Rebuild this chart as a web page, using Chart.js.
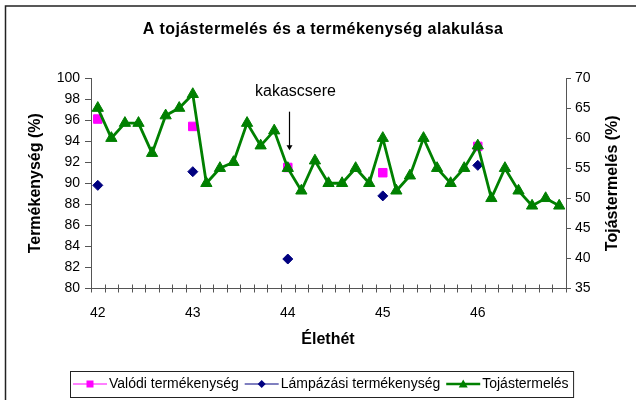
<!DOCTYPE html>
<html>
<head>
<meta charset="utf-8">
<script src="https://cdn.jsdelivr.net/npm/chart.js@4.4.0/dist/chart.umd.min.js"></script>
<style>
  html, body { margin: 0; padding: 0; background: #fff; }
</style>
</head>
<body>
<canvas id="chart" width="636" height="400"></canvas>
<script>
// életkor (hét) - napi bontás, csak az egész heteknél van felirat
const weeks = [
  "42", "", "", "", "", "", "",
  "43", "", "", "", "", "", "",
  "44", "", "", "", "", "", "",
  "45", "", "", "", "", "", "",
  "46", "", "", "", "", "", ""
];

// bal tengely (%)
const valodi = [
  96.1, null, null, null, null, null, null,
  95.4, null, null, null, null, null, null,
  91.5, null, null, null, null, null, null,
  91.0, null, null, null, null, null, null,
  93.5, null, null, null, null, null, null
];
const lampazasi = [
  89.8, null, null, null, null, null, null,
  91.1, null, null, null, null, null, null,
  82.8, null, null, null, null, null, null,
  88.8, null, null, null, null, null, null,
  91.7, null, null, null, null, null, null
];

// jobb tengely (%)
const tojas = [
  65, 60, 62.5, 62.5, 57.5, 63.75, 65,
  67.3, 52.5, 55, 56, 62.5, 58.75, 61.25,
  55, 51.25, 56.25, 52.5, 52.5, 55, 52.5,
  60, 51.25, 53.75, 60, 55, 52.5, 55,
  58.75, 50, 55, 51.25, 48.75, 50, 48.75
];

const leftTicks = { min: 80, max: 100, step: 2 };
const rightTicks = { min: 35, max: 70, step: 5 };

const FONT = "'Liberation Sans', Arial, sans-serif";
Chart.defaults.font.family = FONT;
Chart.defaults.color = "#000";

const axisColor = "#555";

function marker(ctx, style, x, y, r, color) {
  ctx.save();
  ctx.fillStyle = color;
  ctx.beginPath();
  if (style === "rect") {
    ctx.rect(x - r, y - r, 2 * r, 2 * r);
  } else if (style === "rectRot") {
    ctx.moveTo(x, y - r);
    ctx.lineTo(x + r, y);
    ctx.lineTo(x, y + r);
    ctx.lineTo(x - r, y);
    ctx.closePath();
  } else {
    ctx.moveTo(x, y - r);
    ctx.lineTo(x + r, y + r * 0.8);
    ctx.lineTo(x - r, y + r * 0.8);
    ctx.closePath();
  }
  ctx.fill();
  ctx.restore();
}

const decor = {
  id: "decor",
  beforeDraw(chart) {
    const ctx = chart.ctx;
    ctx.save();
    ctx.fillStyle = "#fff";
    ctx.fillRect(0, 0, chart.width, chart.height);
    ctx.restore();
  },
  afterDraw(chart) {
    const ctx = chart.ctx;
    const xs = chart.scales.x;
    const ys = chart.scales.y;
    const area = chart.chartArea;
    ctx.save();

    // keret
    ctx.strokeStyle = "#222";
    ctx.lineWidth = 1.5;
    ctx.strokeRect(5.5, 6, 700, 500);

    // x tengely osztásai (átmennek a tengelyen)
    const bin = xs.getPixelForValue(1) - xs.getPixelForValue(0);
    ctx.strokeStyle = axisColor;
    ctx.lineWidth = 1;
    for (let i = 0; i <= weeks.length; i++) {
      const px = Math.round(xs.getPixelForValue(0) - bin / 2 + i * bin) + 0.5;
      ctx.beginPath();
      ctx.moveTo(px, area.bottom - 4);
      ctx.lineTo(px, area.bottom + 4);
      ctx.stroke();
    }

    // cím
    ctx.fillStyle = "#000";
    ctx.font = "bold 16px " + FONT;
    ctx.textAlign = "center";
    ctx.textBaseline = "alphabetic";
    if ("letterSpacing" in ctx) ctx.letterSpacing = "0.4px";
    ctx.fillText("A tojástermelés és a termékenység alakulása", 323, 34);
    if ("letterSpacing" in ctx) ctx.letterSpacing = "0px";

    // tengelycímek
    ctx.textBaseline = "middle";
    ctx.fillText("Élethét", 328, 340);
    const midY = (area.top + area.bottom) / 2;
    ctx.save();
    ctx.translate(36, midY);
    ctx.rotate(-Math.PI / 2);
    ctx.fillText("Termékenység (%)", 0, 0);
    ctx.restore();
    ctx.save();
    ctx.translate(613, midY);
    ctx.rotate(-Math.PI / 2);
    ctx.fillText("Tojástermelés (%)", 0, 0);
    ctx.restore();

    // kakascsere nyíl
    const ax = Math.round(xs.getPixelForValue(14)) + 1.5;
    ctx.font = "16px " + FONT;
    ctx.textBaseline = "alphabetic";
    ctx.fillText("kakascsere", ax + 6, ys.getPixelForValue(98.26));
    const y0 = ys.getPixelForValue(96.8);
    const y1 = ys.getPixelForValue(93.14);
    ctx.strokeStyle = "#000";
    ctx.lineWidth = 1.2;
    ctx.beginPath();
    ctx.moveTo(ax, y0);
    ctx.lineTo(ax, y1 - 4);
    ctx.stroke();
    ctx.fillStyle = "#000";
    ctx.beginPath();
    ctx.moveTo(ax - 3, y1 - 5);
    ctx.lineTo(ax + 3, y1 - 5);
    ctx.lineTo(ax, y1);
    ctx.closePath();
    ctx.fill();

    // jelmagyarázat
    const items = [
      { text: "Valódi termékenység", color: "#FF00FF", style: "rect", r: 3.5, lw: 1 },
      { text: "Lámpázási termékenység", color: "#000080", style: "rectRot", r: 4, lw: 1 },
      { text: "Tojástermelés", color: "#008000", style: "triangle", r: 4.5, lw: 2.5 }
    ];
    ctx.font = "14px " + FONT;
    ctx.textAlign = "left";
    ctx.textBaseline = "middle";
    const ly = 384;
    let lx = 73;
    for (const it of items) {
      ctx.strokeStyle = it.color;
      ctx.lineWidth = it.lw;
      ctx.beginPath();
      ctx.moveTo(lx, ly);
      ctx.lineTo(lx + 34, ly);
      ctx.stroke();
      marker(ctx, it.style, lx + 17, ly, it.r, it.color);
      ctx.fillStyle = "#000";
      ctx.fillText(it.text, lx + 36, ly);
      lx += 36 + ctx.measureText(it.text).width + 6;
    }
    ctx.strokeStyle = "#222";
    ctx.lineWidth = 1;
    ctx.strokeRect(70.5, 371.5, lx - 6 + 5 - 70.5, 26);

    ctx.restore();
  }
};

new Chart(document.getElementById("chart"), {
  type: "line",
  data: {
    labels: weeks,
    datasets: [
      {
        label: "Valódi termékenység",
        data: valodi,
        yAxisID: "y",
        showLine: false,
        pointStyle: "rect",
        pointRadius: 6,
        backgroundColor: "#FF00FF",
        borderColor: "#FF00FF",
        borderWidth: 1,
        order: 2
      },
      {
        label: "Lámpázási termékenység",
        data: lampazasi,
        yAxisID: "y",
        showLine: false,
        pointStyle: "rectRot",
        pointRadius: 5,
        backgroundColor: "#000080",
        borderColor: "#000080",
        borderWidth: 1,
        order: 1
      },
      {
        label: "Tojástermelés",
        data: tojas,
        yAxisID: "y1",
        pointStyle: "triangle",
        pointRadius: 6.5,
        backgroundColor: "#008000",
        borderColor: "#008000",
        borderWidth: 2.8,
        pointBorderWidth: 1,
        tension: 0,
        order: 0
      }
    ]
  },
  options: {
    responsive: false,
    animation: false,
    events: [],
    layout: { padding: { left: 23, right: 10, top: 78, bottom: 0 } },
    plugins: {
      legend: { display: false },
      tooltip: { enabled: false }
    },
    scales: {
      x: {
        offset: true,
        grid: { display: false },
        border: { color: axisColor, width: 1 },
        ticks: { autoSkip: false, maxRotation: 0, padding: 8, color: "#000", font: { size: 14 } },
        afterFit: (s) => { s.height = 111.5; }
      },
      y: {
        position: "left",
        min: leftTicks.min,
        max: leftTicks.max,
        ticks: { stepSize: leftTicks.step, padding: 5, color: "#000", font: { size: 14 } },
        grid: { drawOnChartArea: false, tickLength: 6, color: axisColor },
        border: { color: axisColor, width: 1 },
        afterFit: (s) => { s.width = 68; }
      },
      y1: {
        position: "right",
        min: rightTicks.min,
        max: rightTicks.max,
        ticks: { stepSize: rightTicks.step, padding: 4, color: "#000", font: { size: 14 } },
        grid: { drawOnChartArea: false, tickLength: 5, color: axisColor },
        border: { color: axisColor, width: 1 },
        afterFit: (s) => { s.width = 60; }
      }
    }
  },
  plugins: [decor]
});
</script>
</body>
</html>
